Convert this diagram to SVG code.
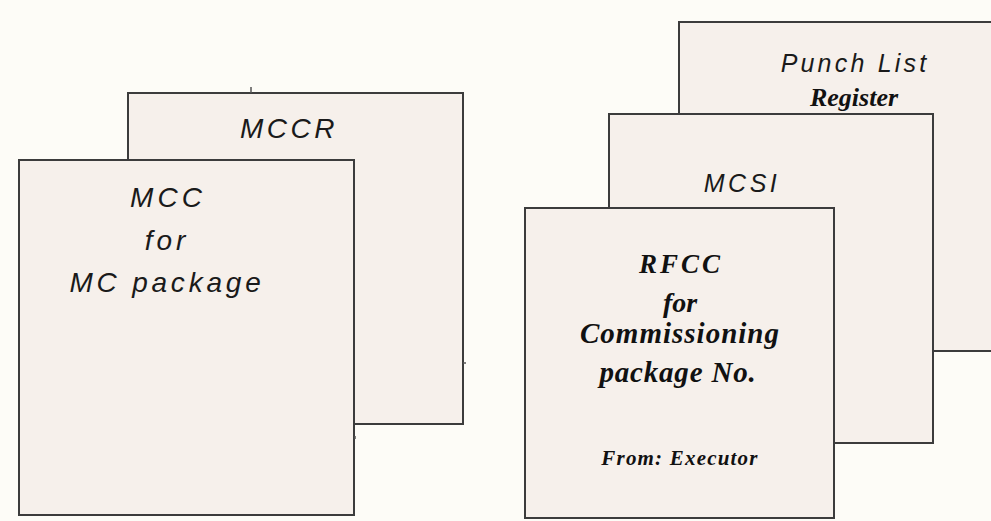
<svg xmlns="http://www.w3.org/2000/svg" width="991" height="521" viewBox="0 0 991 521">
<style>
.bg{fill:#fdfcf7}
.box{fill:#f6f0eb;stroke:#3c3c3c;stroke-width:2}
.sans{font-family:"Liberation Sans",Arial,sans-serif;font-style:italic;fill:#1a1a1a;text-anchor:middle}
.serif{font-family:"Liberation Serif","Times New Roman",serif;font-style:italic;font-weight:bold;fill:#111;text-anchor:middle}
.tick{stroke:#555;stroke-width:1.5}
</style>
<rect class="bg" x="0" y="0" width="991" height="521"/>
<g id="mccr">
<rect class="box" x="128" y="93" width="335" height="331"/>
<text class="sans" x="289" y="138" font-size="28" letter-spacing="3.5">MCCR</text>
</g>
<g id="mcc">
<rect class="box" x="19" y="160" width="335" height="355"/>
<text class="sans" x="168" y="207" font-size="28" letter-spacing="4">MCC</text>
<text class="sans" x="167" y="250" font-size="28" letter-spacing="4">for</text>
<text class="sans" x="167" y="292" font-size="28" letter-spacing="3.8">MC package</text>
</g>
<g id="punch-list">
<rect class="box" x="679" y="22" width="320" height="329"/>
<text class="sans" x="855" y="72" font-size="25" letter-spacing="3.2">Punch List</text>
<text class="serif" x="854" y="106" font-size="26">Register</text>
</g>
<g id="mcsi">
<rect class="box" x="609" y="114" width="324" height="329"/>
<text class="sans" x="742" y="192" font-size="25" letter-spacing="3.5">MCSI</text>
</g>
<g id="rfcc">
<rect class="box" x="525" y="208" width="309" height="310"/>
<text class="serif" x="681" y="273" font-size="27" letter-spacing="3">RFCC</text>
<text class="serif" x="680" y="312" font-size="28">for</text>
<text class="serif" x="680" y="343" font-size="29" letter-spacing="1">Commissioning</text>
<text class="serif" x="678" y="382" font-size="29" letter-spacing="0.8">package No.</text>
<text class="serif" x="680" y="465" font-size="21" letter-spacing="1.2">From: Executor</text>
</g>
<g id="connectors">
<line class="tick" x1="251" y1="87" x2="251" y2="93"/>
<line class="tick" x1="463" y1="363" x2="466" y2="363"/>
<line class="tick" x1="355" y1="436" x2="355" y2="439"/>
</g>
</svg>
